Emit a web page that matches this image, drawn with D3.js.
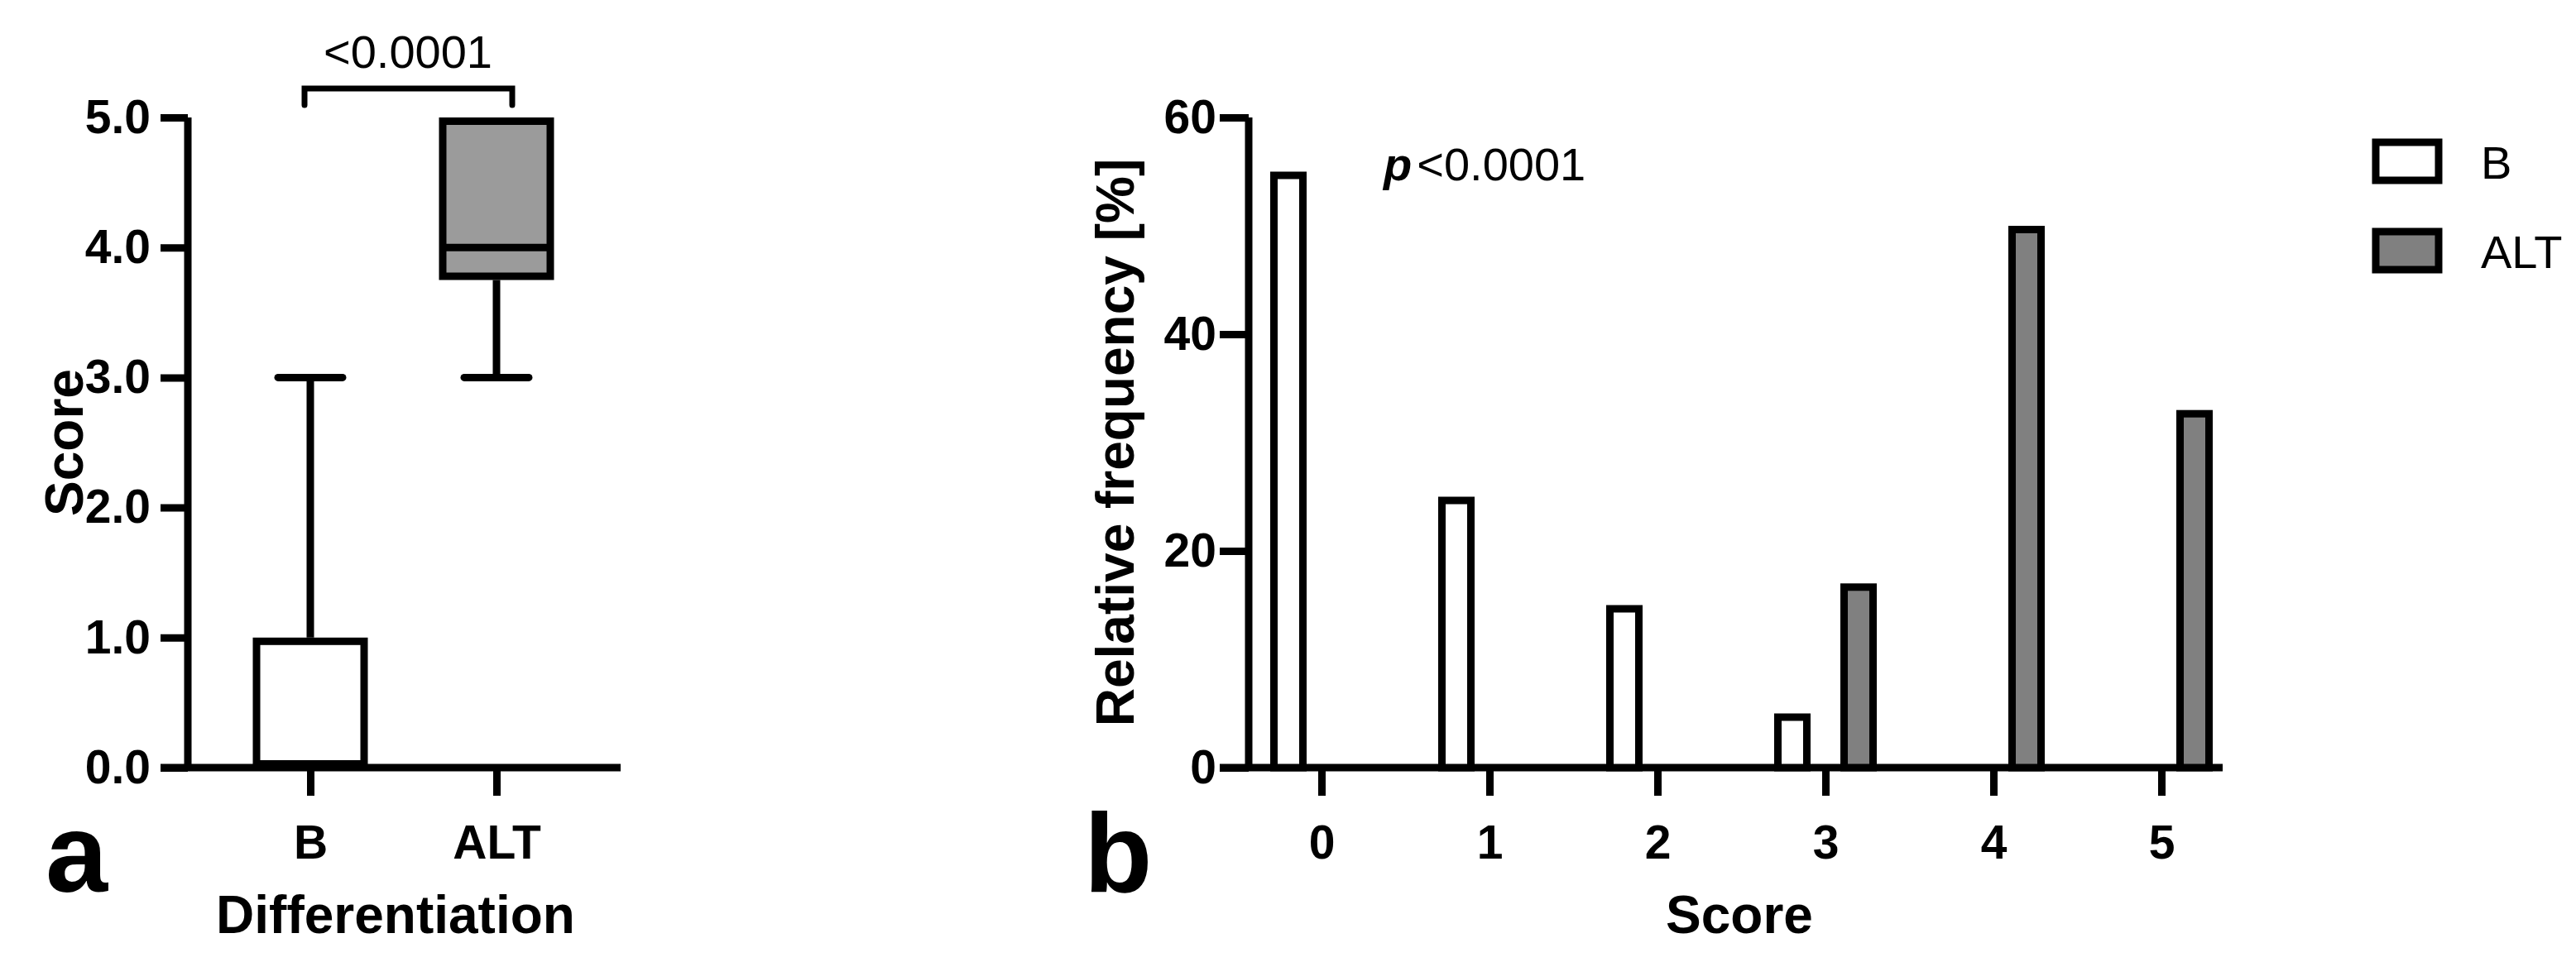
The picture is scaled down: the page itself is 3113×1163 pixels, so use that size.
<!DOCTYPE html>
<html><head><meta charset="utf-8">
<script src="https://cdn.jsdelivr.net/npm/d3@7"></script>
<style>body{margin:0;background:#fff}text{font-family:"Liberation Sans",Arial,sans-serif}</style>
</head><body><div id="chart"></div>
<script>
// panel a: box plots
const groups = ["B", "ALT"];
const boxStats = [
  { name: "B", min: 0, q1: 0, med: 0, q3: 1, max: 3, fill: "#ffffff" },
  { name: "ALT", min: 3, q1: 3.75, med: 4, q3: 5, max: 5, fill: "#9b9b9b" }
];
const scoreTicks = [0, 1, 2, 3, 4, 5];
// panel b: relative frequency histogram
const scores = ["0", "1", "2", "3", "4", "5"];
const freqB = [55, 25, 15, 5, 0, 0];
const freqALT = [0, 0, 0, 17, 50, 33];
const freqTicks = [0, 20, 40, 60];

const W = 3113, H = 1163, SW = 9;
const svg = d3.select("#chart").append("svg").attr("width", W).attr("height", H);

const axisStyle = (g) => {
  g.selectAll("path,line").attr("stroke", "#000").attr("stroke-width", SW);
  g.selectAll("text").attr("font-size", 57).attr("font-weight", "bold").attr("fill", "#000")
    .attr("font-family", '"Liberation Sans",Arial,sans-serif');
};

// ---- panel a ----
const ya = d3.scaleLinear().domain([0, 5]).range([928, 142]);
const xa = d3.scalePoint().domain(groups).range([375, 600]);
const ga = svg.append("g");
ga.append("g").attr("transform", "translate(227,0)")
  .call(d3.axisLeft(ya).tickValues(scoreTicks).tickSize(33).tickPadding(12).tickSizeOuter(0))
  .call(axisStyle).call(g => g.select(".domain").attr("d", `M0,${ya(5)}V${ya(0)}`));
ga.append("g").attr("transform", `translate(0,${ya(0)})`)
  .call(d3.axisBottom(xa).tickSize(34).tickPadding(36).tickSizeOuter(0))
  .call(axisStyle).call(g => g.select(".domain").attr("d", "M194,0H750"));

const bw = 139, capw = 78;
boxStats.forEach(d => {
  const cx = xa(d.name);
  ga.append("line").attr("x1", cx).attr("x2", cx).attr("y1", ya(d.q3)).attr("y2", ya(d.max))
    .attr("stroke", "#000").attr("stroke-width", SW);
  ga.append("line").attr("x1", cx).attr("x2", cx).attr("y1", ya(d.q1)).attr("y2", ya(d.min))
    .attr("stroke", "#000").attr("stroke-width", SW);
  [d.min, d.max].forEach(v => {
    if (v !== d.q1 && v !== d.q3) ga.append("line").attr("x1", cx - capw / 2).attr("x2", cx + capw / 2)
      .attr("y1", ya(v)).attr("y2", ya(v)).attr("stroke", "#000").attr("stroke-width", SW).attr("stroke-linecap", "round");
  });
  ga.append("rect").attr("x", cx - bw / 2 + SW / 2).attr("width", bw - SW)
    .attr("y", ya(d.q3) + SW / 2).attr("height", ya(d.q1) - ya(d.q3) - SW)
    .attr("fill", d.fill).attr("stroke", "#000").attr("stroke-width", SW);
  ga.append("line").attr("x1", cx - bw / 2 + SW / 2).attr("x2", cx + bw / 2 - SW / 2)
    .attr("y1", ya(d.med) - (d.med === d.q1 ? SW / 2 : 0)).attr("y2", ya(d.med) - (d.med === d.q1 ? SW / 2 : 0))
    .attr("stroke", "#000").attr("stroke-width", SW);
});
ga.append("path").attr("d", `M368,127V107H619V127`).attr("fill", "none")
  .attr("stroke", "#000").attr("stroke-width", 7).attr("stroke-linecap", "round");
ga.append("text").attr("x", 493).attr("y", 82).attr("text-anchor", "middle").attr("font-size", 56).text("<0.0001");
ga.append("text").attr("transform", `translate(100,${(ya(0) + ya(5)) / 2}) rotate(-90)`)
  .attr("text-anchor", "middle").attr("font-size", 64).attr("font-weight", "bold").text("Score");
ga.append("text").attr("x", 478).attr("y", 1128).attr("text-anchor", "middle").attr("font-size", 64).attr("font-weight", "bold").text("Differentiation");
ga.append("text").attr("x", 55).attr("y", 1078).attr("font-size", 135).attr("font-weight", "bold").text("a");

// ---- panel b ----
const yb = d3.scaleLinear().domain([0, 60]).range([928, 142]);
const xb = d3.scalePoint().domain(scores).range([1597, 2612]);
const gb = svg.append("g");
gb.append("g").attr("transform", "translate(1509,0)")
  .call(d3.axisLeft(yb).tickValues(freqTicks).tickSize(35).tickPadding(4).tickSizeOuter(0))
  .call(axisStyle).call(g => g.select(".domain").attr("d", `M0,${yb(60)}V${yb(0)}`));
gb.append("g").attr("transform", `translate(0,${yb(0)})`)
  .call(d3.axisBottom(xb).tickSize(34).tickPadding(36).tickSizeOuter(0))
  .call(axisStyle).call(g => g.select(".domain").attr("d", "M1474,0H2686"));

const barW = 44, off = 40;
const series = [{ vals: freqB, dx: -off, fill: "#ffffff" }, { vals: freqALT, dx: off, fill: "#808080" }];
series.forEach(s => {
  gb.selectAll(null).data(s.vals.map((v, i) => ({ v, s: scores[i] })).filter(d => d.v > 0)).enter().append("rect")
    .attr("x", d => xb(d.s) + s.dx - barW / 2 + SW / 2).attr("width", barW - SW)
    .attr("y", d => yb(d.v) + SW / 2).attr("height", d => yb(0) - yb(d.v) - SW / 2)
    .attr("fill", s.fill).attr("stroke", "#000").attr("stroke-width", SW);
});
const pt = gb.append("text").attr("x", 1672).attr("y", 218).attr("font-size", 56);
pt.append("tspan").attr("font-weight", "bold").attr("font-style", "italic").text("p");
pt.append("tspan").attr("dx", 6).text("<0.0001");
gb.append("text").attr("transform", `translate(1370,${(yb(0) + yb(60)) / 2}) rotate(-90)`)
  .attr("text-anchor", "middle").attr("font-size", 64).attr("font-weight", "bold").text("Relative frequency [%]");
gb.append("text").attr("x", 2102).attr("y", 1128).attr("text-anchor", "middle").attr("font-size", 64).attr("font-weight", "bold").text("Score");
gb.append("text").attr("x", 1310).attr("y", 1078).attr("font-size", 135).attr("font-weight", "bold").text("b");

const legend = [{ label: "B", fill: "#ffffff", y: 172 }, { label: "ALT", fill: "#808080", y: 280 }];
legend.forEach(l => {
  gb.append("rect").attr("x", 2871).attr("y", l.y).attr("width", 76).attr("height", 46)
    .attr("fill", l.fill).attr("stroke", "#000").attr("stroke-width", SW);
  gb.append("text").attr("x", 2998).attr("y", l.y + 44).attr("font-size", 56).text(l.label);
});
</script></body></html>
